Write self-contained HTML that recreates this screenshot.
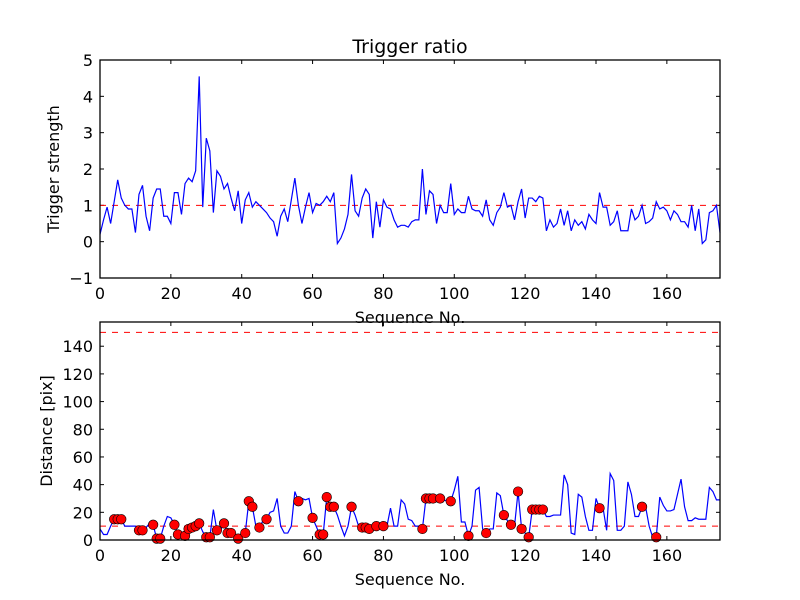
<!DOCTYPE html>
<html><head><meta charset="utf-8"><style>body{margin:0;background:#fff}svg{display:block}text{font-family:"DejaVu Sans","Liberation Sans",sans-serif}</style></head>
<body>
<svg id="c" width="800" height="600"></svg>
<script>
const xs = Array.from({length:176},(_, i)=>i);
const strength = [0.2,0.6,0.95,0.5,1.1,1.7,1.2,1.0,0.9,0.9,0.25,1.3,1.55,0.7,0.3,1.2,1.45,1.45,0.7,0.7,0.5,1.35,1.35,0.75,1.6,1.75,1.65,1.95,4.55,0.95,2.85,2.5,0.8,1.95,1.8,1.45,1.6,1.2,0.85,1.4,0.5,1.15,1.35,0.95,1.1,1.0,0.9,0.8,0.65,0.55,0.15,0.7,0.9,0.55,1.15,1.75,1.0,0.5,0.95,1.35,0.8,1.05,1.0,1.1,1.25,1.1,1.35,-0.05,0.1,0.35,0.75,1.85,0.85,0.7,1.2,1.45,1.3,0.1,1.1,0.4,1.15,0.95,0.9,0.6,0.4,0.45,0.45,0.4,0.55,0.6,0.6,2.0,0.75,1.4,1.3,0.5,1.0,0.8,0.8,1.6,0.75,0.9,0.8,0.8,1.25,0.9,0.85,0.85,0.7,1.15,0.6,0.45,0.8,0.95,1.35,0.95,1.0,0.6,1.1,1.45,0.65,1.2,1.2,1.1,1.25,1.2,0.3,0.6,0.4,0.5,0.9,0.45,0.85,0.3,0.6,0.45,0.55,0.35,0.75,0.6,0.5,1.35,0.95,0.95,0.45,0.55,0.85,0.3,0.3,0.3,0.9,0.6,0.7,1.0,0.5,0.55,0.65,1.1,0.9,0.95,0.85,0.6,0.85,0.75,0.55,0.55,0.4,1.0,0.3,0.9,-0.05,0.05,0.8,0.85,1.0,0.25];
const distance = [8,4,4,10,15,15,15,10,10,10,10,7,7,9,12,11,1,1,10,17,16,11,4,5,3,8,9,10,12,6,2,2,22,7,7,12,5,5,4,1,4,5,28,24,10,9,14,15,20,21,30,10,5,5,10,35,28,30,29,30,16,10,4,4,31,24,24,18,10,3,10,24,18,10,9,9,8,10,10,10,10,10,23,10,10,29,26,15,14,10,10,8,30,30,30,30,30,29,28,28,36,46,13,13,3,10,36,38,8,5,8,8,34,32,18,14,11,10,35,8,5,2,22,22,22,22,17,17,18,18,18,47,40,5,4,33,31,17,7,7,30,23,23,7,48,43,7,7,10,42,33,17,17,24,24,10,2,2,31,25,21,21,22,33,44,24,14,14,16,15,15,15,38,35,29,29];
const outlierIdx = [4,5,6,11,12,15,16,17,21,22,24,25,26,27,28,30,31,33,35,36,37,39,41,42,43,45,47,56,60,62,63,64,65,66,71,74,75,76,78,80,91,92,93,94,96,99,104,109,114,116,118,119,121,122,123,124,125,141,153,157];
const xTicks = [0,20,40,60,80,100,120,140,160];
const topYTicks = [-1,0,1,2,3,4,5];
const botYTicks = [0,20,40,60,80,100,120,140];
const topThreshold = [1];
const botThresholds = [10,150];

const NS="http://www.w3.org/2000/svg", svg=document.getElementById('c');
function mk(t,a,p){const e=document.createElementNS(NS,t);for(const k in a)e.setAttribute(k,a[k]);(p||svg).appendChild(e);return e;}
const L=100,R=720;
const X=v=>L+v/175*(R-L);
function panel(T,B,ymin,ymax,yt,name){
  const Y=v=>B-(v-ymin)/(ymax-ymin)*(B-T);
  const g=mk('g',{});
  
  
  xTicks.forEach(t=>{const x=X(t);
    mk('line',{x1:x,x2:x,y1:B,y2:B-4,stroke:'#000'},g);mk('line',{x1:x,x2:x,y1:T,y2:T+4,stroke:'#000'},g);
    const tx=mk('text',{x:x,y:B+21,'text-anchor':'middle','font-size':16},g);tx.textContent=t;
    
    });
  yt.forEach(t=>{const y=Y(t);
    mk('line',{x1:L,x2:L+4,y1:y,y2:y,stroke:'#000'},g);mk('line',{x1:R,x2:R-4,y1:y,y2:y,stroke:'#000'},g);
    const tx=mk('text',{x:L-7,y:y+6,'text-anchor':'end','font-size':16},g);tx.textContent=t<0?'\u2212'+(-t):t;
    
    });
  return {g,Y};
}
// top
const p1=panel(60,278,-1,5,topYTicks,'strength-axes');
topThreshold.forEach(v=>{const l=mk('line',{x1:L,x2:R,y1:p1.Y(v),y2:p1.Y(v),stroke:'#f00','stroke-dasharray':'6,6','stroke-width':1},p1.g);
  });
const s1=mk('polyline',{points:xs.map(i=>X(i)+','+p1.Y(strength[i])).join(' '),fill:'none',stroke:'#00f','stroke-width':1.2},p1.g);


mk('rect',{x:L,y:60,width:R-L,height:218,fill:'none',stroke:'#000','stroke-width':1.3},p1.g);
// bottom
const p2=panel(322,540,0,157.5,botYTicks,'distance-axes');
botThresholds.forEach(v=>{const l=mk('line',{x1:L,x2:R,y1:p2.Y(v),y2:p2.Y(v),stroke:'#f00','stroke-dasharray':'6,6','stroke-width':1},p2.g);
  });
const s2=mk('polyline',{points:xs.map(i=>X(i)+','+p2.Y(distance[i])).join(' '),fill:'none',stroke:'#00f','stroke-width':1.2},p2.g);


outlierIdx.forEach(i=>{const c=mk('circle',{cx:X(i),cy:p2.Y(distance[i]),r:4.8,fill:'#f00',stroke:'#000','stroke-width':0.6},p2.g);
  
  });
mk('rect',{x:L,y:322,width:R-L,height:218,fill:'none',stroke:'#000','stroke-width':1.3},p2.g);
function label(txt,a,name){const t=mk('text',a);t.textContent=txt;
  }
label('Trigger ratio',{x:410,y:53,'text-anchor':'middle','font-size':19},'chart-title');
label('Sequence No.',{x:410,y:323,'text-anchor':'middle','font-size':16},'top-x-axis-title');
label('Sequence No.',{x:410,y:585,'text-anchor':'middle','font-size':16},'bottom-x-axis-title');
label('Trigger strength',{x:0,y:0,'text-anchor':'middle','font-size':16,transform:'translate(59,169) rotate(-90)'},'top-y-axis-title');
label('Distance [pix]',{x:0,y:0,'text-anchor':'middle','font-size':16,transform:'translate(52,431) rotate(-90)'},'bottom-y-axis-title');
</script>
</body></html>
